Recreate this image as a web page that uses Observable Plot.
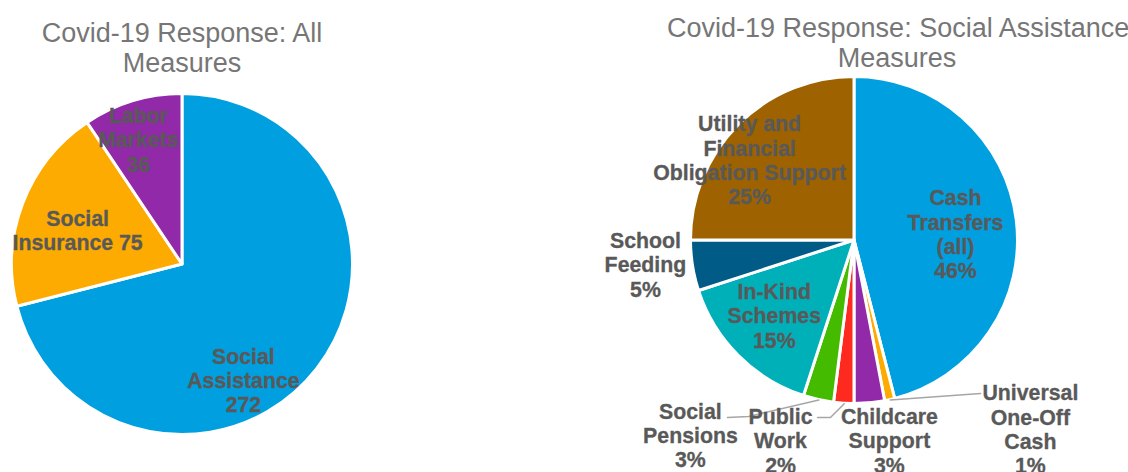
<!DOCTYPE html>
<html>
<head>
<meta charset="utf-8">
<script src="https://cdn.jsdelivr.net/npm/d3@7"></script>
<script src="https://cdn.jsdelivr.net/npm/@observablehq/plot@0.6"></script>
<style>
  html, body { margin: 0; padding: 0; background: #ffffff; }
  #page { position: relative; width: 1128px; height: 472px; overflow: hidden;
          font-family: "Liberation Sans", Arial, sans-serif; background: #ffffff; }
  .title { position: absolute; text-align: center; font-size: 27px; line-height: 30px;
           color: #767676; white-space: nowrap; }
  .chart { position: absolute; }
</style>
</head>
<body>
<div id="page">
  <div class="title" style="left:0px; width:364px; top:18px;">Covid-19 Response: All<br>Measures</div>
  <div class="title" style="left:667px; width:460px; top:13px;">Covid-19 Response: Social Assistance<br>Measures</div>
  <div class="chart" id="left" style="left:0px; top:80px;"></div>
  <div class="chart" id="right" style="left:580px; top:72px;"></div>
</div>
<script>
// ---------- Data: Covid-19 Response, all measures ----------
const measureCategories = ["Social Assistance", "Social Insurance", "Labor Markets"];
const measureCounts = [272, 75, 36];
const measureColors = ["#009fdf", "#fdab00", "#9129a8"];

// ---------- Data: Social assistance measures (share, %) ----------
const saCategories = [
  "Cash Transfers (all)", "Universal One-Off Cash", "Childcare Support", "Public Work",
  "Social Pensions", "In-Kind Schemes", "School Feeding", "Utility and Financial Obligation Support"
];
const saShares = [46, 1, 3, 2, 3, 15, 5, 25];
const saColors = ["#009fdf", "#fdab00", "#9129a8", "#ff2a1f", "#45bb00", "#00b0b9", "#005c87", "#9e6300"];

// ---------- Label text wrapping (as in the original) ----------
const measureWrap = {
  "Social Assistance": "Social\nAssistance\n",
  "Social Insurance": "Social\nInsurance ",
  "Labor Markets": "Labor\nMarkets\n"
};
const saWrap = {
  "Cash Transfers (all)": "Cash\nTransfers\n(all)\n",
  "Universal One-Off Cash": "Universal\nOne-Off\nCash\n",
  "Childcare Support": "Childcare\nSupport\n",
  "Public Work": "Public\nWork\n",
  "Social Pensions": "Social\nPensions\n",
  "In-Kind Schemes": "In-Kind\nSchemes\n",
  "School Feeding": "School\nFeeding\n",
  "Utility and Financial Obligation Support": "Utility and\nFinancial\nObligation Support\n"
};

// ---------- Label layout (polar: degrees clockwise from 12 o'clock, radius fraction) ----------
const measureLabelLayout = {
  "Social Assistance": {angle: 152.2, radius: 0.766},
  "Social Insurance": {angle: 288.0, radius: 0.647},
  "Labor Markets": {angle: 340.6, radius: 0.777}
};
const saLabelLayout = {
  "Cash Transfers (all)": {angle: 86.3, radius: 0.619},
  "Universal One-Off Cash": {angle: 137.0, radius: 1.577},
  "Childcare Support": {angle: 170.1, radius: 1.242},
  "Public Work": {angle: 200.3, radius: 1.304},
  "Social Pensions": {angle: 220.1, radius: 1.558},
  "In-Kind Schemes": {angle: 226.9, radius: 0.672},
  "School Feeding": {angle: 263.45, radius: 1.287},
  "Utility and Financial Obligation Support": {angle: 307.5, radius: 0.809}
};
// leader lines: from the slice edge through these points (radius units)
const saLeaders = {
  "Social Pensions": [[-0.648, -1.076], [-0.777, -1.083]],
  "Public Work": [[-0.147, -1.083], [-0.226, -1.083]],
  "Universal One-Off Cash": [[0.771, -0.936]]
};

function piePlot(cfg) {
  const rows = cfg.names.map((name, i) => ({name, value: cfg.values[i]}));
  const arcs = d3.pie().sort(null).value(d => d.value)(rows);
  const color = Plot.scale({color: {type: "ordinal", domain: cfg.names, range: cfg.colors}});
  const rad = Math.PI / 180;

  const labels = arcs.map(a => {
    const L = cfg.layout[a.data.name];
    return {
      x: L.radius * Math.sin(L.angle * rad),
      y: L.radius * Math.cos(L.angle * rad),
      text: cfg.wrap[a.data.name] + cfg.format(a.data.value)
    };
  });

  const leaderRows = [];
  arcs.forEach(a => {
    const pts = (cfg.leaders || {})[a.data.name];
    if (!pts) return;
    const mid = (a.startAngle + a.endAngle) / 2;
    leaderRows.push({name: a.data.name, x: Math.sin(mid), y: Math.cos(mid)});
    pts.forEach(([x, y]) => leaderRows.push({name: a.data.name, x, y}));
  });

  const slices = (index, scales) => {
    const ox = scales.x(0), oy = scales.y(0);
    const R = scales.x(1) - scales.x(0);
    const arc = d3.arc().innerRadius(0).outerRadius(R);
    const g = d3.create("svg:g").attr("transform", `translate(${ox},${oy})`);
    g.selectAll("path").data(arcs).join("path")
      .attr("d", arc)
      .attr("fill", d => color.apply(d.data.name))
      .attr("stroke", "#ffffff")
      .attr("stroke-width", 3)
      .attr("stroke-linejoin", "round");
    return g.node();
  };

  return Plot.plot({
    width: cfg.width,
    height: cfg.height,
    margin: 0,
    style: {background: "transparent", overflow: "visible", fontFamily: "'Liberation Sans', Arial, sans-serif"},
    x: {domain: [-1, 1], range: [cfg.cx - cfg.R, cfg.cx + cfg.R], axis: null},
    y: {domain: [-1, 1], range: [cfg.cy + cfg.R, cfg.cy - cfg.R], axis: null},
    marks: [
      slices,
      Plot.line(leaderRows, {x: "x", y: "y", z: "name", stroke: "#a6a6a6", strokeWidth: 1.5, curve: "linear"}),
      Plot.text(labels, {
        x: "x", y: "y", text: "text",
        fontSize: 21.3, fontWeight: "bold", fill: "#595959",
        stroke: "#595959", strokeWidth: 0.3,
        lineHeight: 1.14, textAnchor: "middle"
      })
    ]
  });
}

document.getElementById("left").append(piePlot({
  names: measureCategories, values: measureCounts, colors: measureColors,
  wrap: measureWrap, layout: measureLabelLayout, format: v => String(v),
  width: 364, height: 392, cx: 182, cy: 184, R: 170.5
}));

document.getElementById("right").append(piePlot({
  names: saCategories, values: saShares, colors: saColors,
  wrap: saWrap, layout: saLabelLayout, leaders: saLeaders, format: v => v + "%",
  width: 548, height: 400, cx: 274, cy: 168, R: 163.5
}));
</script>
</body>
</html>
